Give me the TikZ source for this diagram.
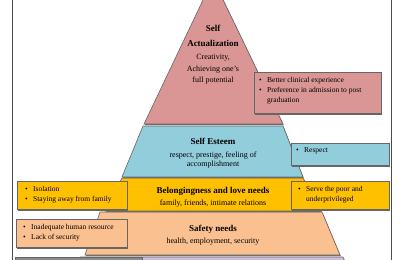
\documentclass[tikz,border=0pt]{standalone}
\usepackage{fontspec}
\setmainfont{Liberation Serif}
\usetikzlibrary{shadows}
\definecolor{actpink}{HTML}{D99694}
\definecolor{esteemblue}{HTML}{92CDDC}
\definecolor{lovegold}{HTML}{FFC000}
\definecolor{safepeach}{HTML}{FAC090}
\definecolor{physlilac}{HTML}{CCC1DA}
\tikzset{%
  layer/.style    = {draw=black!60, line width=0.6pt,%
                     drop shadow={shadow xshift=0.8pt, shadow yshift=-1.2pt,%
                                  fill=black!60, opacity=1}},%
  sidebox/.style  = {layer, rectangle, anchor=north west, inner sep=0pt},%
  sidetext/.style = {anchor=north west, align=left, inner sep=0pt,%
                     font=\fontsize{7.5}{10}\selectfont},%
  title/.style    = {inner sep=0pt, align=center,%
                     font=\fontsize{9}{15}\selectfont\bfseries},%
  desc/.style     = {inner sep=0pt, align=center,%
                     font=\fontsize{8}{11.5}\selectfont}%
}
\newcommand{\bul}{\makebox[8pt][l]{\textbullet}}

\begin{document}
\begin{tikzpicture}[x=1pt,y=-1pt]
		\clip (0,0) rectangle (400,260);
		\fill[white] (0,0) rectangle (400,260);
		\draw[black!70, line width=1pt] (12,-10) rectangle (391,275);
		\path[layer, fill=physlilac] (80,257) -- (343,257) -- (350,275) -- (73,275) -- cycle;
		\path[layer, fill=safepeach] (100,212) -- (322,212) -- (340,255) -- (85,255) -- cycle;
		\path[layer, fill=lovegold] (122,178) -- (303,178) -- (321,211) -- (105,211) -- cycle;
		\path[layer, fill=esteemblue] (143,126) -- (283,126) -- (303,177) -- (122,177) -- cycle;
		\path[layer, fill=actpink] (213,-21) -- (283,124) -- (144,124) -- cycle;
		\node[title, anchor=north] (actit) at (213,25) {Self\\Actualization};
		\node[desc, anchor=north] (actdesc) at (213,54.5) {Creativity,\\Achieving one's\\full potential};
		\node[title, anchor=base] (esttit) at (213,144) {Self Esteem};
		\node[desc, anchor=north, font=\fontsize{8}{9}\selectfont] (estdesc) at (213,151.5)
			{respect, prestige, feeling of\\accomplishment};
		\node[title, anchor=base] (lovetit) at (213,193) {Belongingness and love needs};
		\node[desc, anchor=base] (lovedesc) at (213,205) {family, friends, intimate relations};
		\node[title, anchor=base] (safetit) at (213,231) {Safety needs};
		\node[desc, anchor=base] (safedesc) at (213,243) {health, employment, security};
		\node[sidebox, fill=black!45, minimum width=127pt, minimum height=20pt] (phys) at (15,257) {};
		\node[sidebox, fill=actpink, minimum width=127pt, minimum height=41pt] (better) at (254,72) {};
		\node[sidetext] (bettertxt) at ([xshift=5pt,yshift=-5pt]better.north west)
			{\bul Better clinical experience\\\bul Preference in admission to post\\\hspace*{8pt}graduation};
		\node[sidebox, fill=esteemblue, minimum width=98pt, minimum height=22pt] (respect) at (291,143) {};
		\node[sidetext] (respecttxt) at ([xshift=5pt,yshift=-4.5pt]respect.north west) {\bul Respect};
		\node[sidebox, fill=lovegold, minimum width=110pt, minimum height=28pt] (iso) at (17,181) {};
		\node[sidetext] (isotxt) at ([xshift=8pt,yshift=-5pt]iso.north west)
			{\bul Isolation\\\bul Staying away from family};
		\node[sidebox, fill=lovegold, minimum width=98pt, minimum height=28pt] (serve) at (291,181) {};
		\node[sidetext] (servetxt) at ([xshift=7pt,yshift=-5pt]serve.north west)
			{\bul Serve the poor and\\\hspace*{8pt}underprivileged};
		\node[sidebox, fill=safepeach, minimum width=111pt, minimum height=28pt] (lacksec) at (16,219) {};
		\node[sidetext] (lacksectxt) at ([xshift=7pt,yshift=-5pt]lacksec.north west)
			{\bul Inadequate human resource\\\bul Lack of security};
		\end{tikzpicture}
\end{document}
